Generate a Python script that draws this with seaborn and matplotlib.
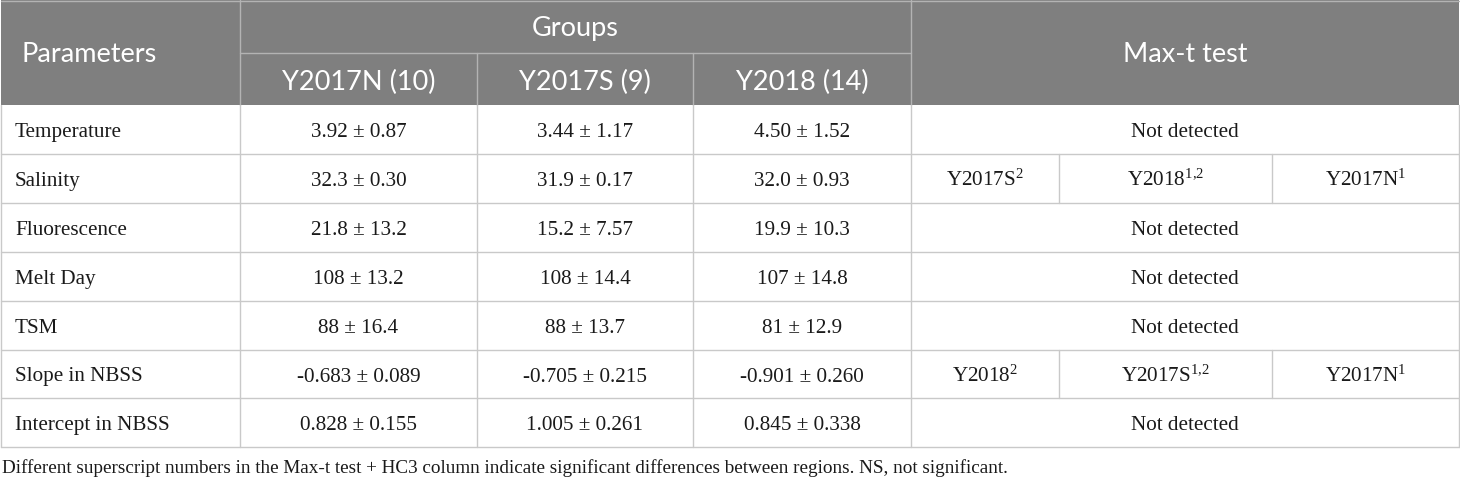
import matplotlib
matplotlib.use("Agg")
import matplotlib.pyplot as plt
import seaborn as sns

sns.set_style("white")
plt.rcParams["mathtext.fontset"] = "custom"
plt.rcParams["mathtext.rm"] = "Liberation Serif"
plt.rcParams["mathtext.it"] = "Liberation Serif"

# table content
group_header = "Groups"
group_cols = ["Y2017N (10)", "Y2017S (9)", "Y2018 (14)"]
params = ["Temperature", "Salinity", "Fluorescence", "Melt Day", "TSM",
          "Slope in NBSS", "Intercept in NBSS"]
y2017n = ["3.92 ± 0.87", "32.3 ± 0.30", "21.8 ± 13.2", "108 ± 13.2",
          "88 ± 16.4", "-0.683 ± 0.089", "0.828 ± 0.155"]
y2017s = ["3.44 ± 1.17", "31.9 ± 0.17", "15.2 ± 7.57", "108 ± 14.4",
          "88 ± 13.7", "-0.705 ± 0.215", "1.005 ± 0.261"]
y2018 = ["4.50 ± 1.52", "32.0 ± 0.93", "19.9 ± 10.3", "107 ± 14.8",
         "81 ± 12.9", "-0.901 ± 0.260", "0.845 ± 0.338"]
maxt = ["Not detected",
        [("Y2017S", "2"), ("Y2018", "1{,}2"), ("Y2017N", "1")],
        "Not detected", "Not detected", "Not detected",
        [("Y2018", "2"), ("Y2017S", "1{,}2"), ("Y2017N", "1")],
        "Not detected"]
footnote = ("Different superscript numbers in the Max-t test + HC3 column indicate "
            "significant differences between regions. NS, not significant.")

# layout (pixels)
col_x = [1, 240, 477, 693, 911, 1459]
sub_x = [911, 1059, 1272, 1459]
head_y = [1, 53, 105]
row_h = 48.9
n = len(params)
row_y = [105 + i * row_h for i in range(n + 1)]

hdr_col = "#7f7f7f"
line_col = "#c9c9c9"
hline_col = "#b3b3b3"
txt_col = "#1a1a1a"
sans = "Lato"
serif = "Liberation Serif"
hfs = 19.5
fs = 15.2

fig = plt.figure(figsize=(14.6, 4.78), dpi=100)
ax = fig.add_axes([0, 0, 1, 1])
ax.set_xlim(0, 1460)
ax.set_ylim(478, 0)
ax.axis("off")

# header background
ax.add_patch(plt.Rectangle((col_x[0], 0), col_x[-1] - col_x[0], head_y[2],
                           color=hdr_col, lw=0))
# header lines
ax.plot([col_x[1], col_x[1]], [0, head_y[2]], color=hline_col, lw=1)
ax.plot([col_x[4], col_x[4]], [0, head_y[2]], color=hline_col, lw=1)
ax.plot([col_x[1], col_x[4]], [head_y[1], head_y[1]], color=hline_col, lw=1)
for x in col_x[2:4]:
    ax.plot([x, x], [head_y[1], head_y[2]], color=hline_col, lw=1)
ax.plot([col_x[0], col_x[-1]], [0.5, 0.5], color=hline_col, lw=1)

# header text (baseline placed)
ax.text(22, 62, "Parameters", family=sans, fontsize=hfs, color="white",
        ha="left", va="baseline")
ax.text((col_x[1] + col_x[4]) / 2, 36, group_header,
        family=sans, fontsize=hfs, color="white", ha="center", va="baseline")
for i, g in enumerate(group_cols):
    ax.text((col_x[i + 1] + col_x[i + 2]) / 2, 90, g,
            family=sans, fontsize=hfs, color="white", ha="center", va="baseline")
ax.text((col_x[4] + col_x[5]) / 2, 62, "Max-t test", family=sans,
        fontsize=hfs, color="white", ha="center", va="baseline")

# body grid
for y in row_y[1:]:
    ax.plot([col_x[0], col_x[-1]], [y, y], color=line_col, lw=1)
for x in col_x:
    ax.plot([x, x], [row_y[0], row_y[-1]], color=line_col, lw=1)

for i in range(n):
    yb = row_y[i] + 32
    ax.text(15, yb, params[i], family=serif, fontsize=fs, color=txt_col,
            ha="left", va="baseline")
    for j, col in enumerate([y2017n, y2017s, y2018]):
        ax.text((col_x[j + 1] + col_x[j + 2]) / 2, yb, col[i], family=serif,
                fontsize=fs, color=txt_col, ha="center", va="baseline")
    if isinstance(maxt[i], str):
        ax.text((col_x[4] + col_x[5]) / 2, yb, maxt[i], family=serif,
                fontsize=fs, color=txt_col, ha="center", va="baseline")
    else:
        for k, (name, sup) in enumerate(maxt[i]):
            if k > 0:
                ax.plot([sub_x[k], sub_x[k]], [row_y[i], row_y[i + 1]],
                        color=line_col, lw=1)
            ax.text((sub_x[k] + sub_x[k + 1]) / 2, yb,
                    name + r"$^{\mathrm{" + sup + "}}$", family=serif,
                    fontsize=fs, color=txt_col, ha="center", va="baseline")

ax.text(2, 473, footnote, family=serif, fontsize=13.8, color=txt_col,
        ha="left", va="baseline")

fig.savefig("out.png", dpi=100)
